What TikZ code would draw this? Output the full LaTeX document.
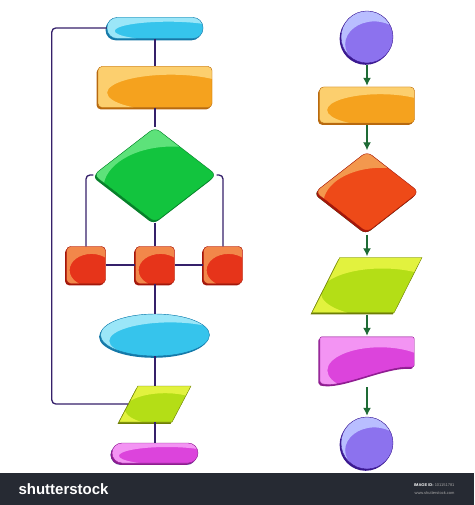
\documentclass[tikz,border=0pt]{standalone}
\usepackage{fontspec}
\usetikzlibrary{shapes,arrows,arrows.meta,shadows,calc}
\newfontfamily\barfont{Liberation Sans}
\definecolor{cyanB}{HTML}{36C4EC}\definecolor{cyanL}{HTML}{9BE6F8}\definecolor{cyanD}{HTML}{1478A8}
\definecolor{orgB}{HTML}{F5A21E}\definecolor{orgL}{HTML}{FCCF6E}\definecolor{orgD}{HTML}{B8690E}
\definecolor{grnB}{HTML}{12C43E}\definecolor{grnL}{HTML}{5DE27A}\definecolor{grnD}{HTML}{07802A}
\definecolor{redB}{HTML}{E6341A}\definecolor{redL}{HTML}{F2874A}\definecolor{redD}{HTML}{A3160A}
\definecolor{limB}{HTML}{B4DE16}\definecolor{limL}{HTML}{E2F23E}\definecolor{limD}{HTML}{6E7E06}
\definecolor{magB}{HTML}{DC44DC}\definecolor{magL}{HTML}{F394F3}\definecolor{magD}{HTML}{8E1C90}
\definecolor{purB}{HTML}{8C72EE}\definecolor{purL}{HTML}{B9BEFF}\definecolor{purD}{HTML}{3A1890}
\definecolor{oredB}{HTML}{EE4A18}\definecolor{oredL}{HTML}{F3984E}
\definecolor{linec}{HTML}{35206A}\definecolor{arrowc}{HTML}{1E6B35}\definecolor{barc}{HTML}{262A33}

\begin{document}
\begin{tikzpicture}[auto, node distance=70pt, >={Latex[length=8pt,width=8pt]}, x=1pt, y=1pt]
	%define block styles
	\tikzset{
		gloss/.style={path picture={\fill[#1,even odd rule] let \p1=(path picture bounding box.north east), \p2=(path picture bounding box.south west) in (\p2) rectangle (\p1) ({\x2+0.64*(\x1-\x2)},{\y2+0.36*(\y1-\y2)}) ellipse [x radius={0.56*(\x1-\x2)}, y radius={0.44*(\y1-\y2)}];}},
		rim/.style={drop shadow={shadow xshift=-1.4pt, shadow yshift=-1.8pt, fill=#1, opacity=1}},
		pillbox/.style={rectangle, rounded corners=10pt, minimum width=96pt, minimum height=21pt, inner sep=0pt, fill=cyanB, gloss=cyanL, draw=cyanD, rim=cyanD},
		procbox/.style={rectangle, rounded corners=4pt, minimum width=114pt, minimum height=41pt, inner sep=0pt, fill=orgB, gloss=orgL, draw=orgD, rim=orgD},
		decbox/.style={diamond, rounded corners=6pt, minimum width=123pt, minimum height=95pt, inner sep=0pt, fill=grnB, gloss=grnL, draw=grnD, rim=grnD},
		sqbox/.style={rectangle, rounded corners=4pt, minimum width=39pt, minimum height=37pt, inner sep=0pt, fill=redB, gloss=redL, draw=redD, rim=redD},
		ovalbox/.style={ellipse, minimum width=109pt, minimum height=42pt, inner sep=0pt, fill=cyanB, gloss=cyanL, draw=cyanD, rim=cyanD},
		iobox/.style={trapezium, trapezium left angle=61, trapezium right angle=119, trapezium stretches=true, minimum width=72pt, minimum height=36pt, inner sep=1pt, fill=limB, gloss=limL, draw=limD, rim=limD},
		termbox/.style={circle, minimum size=52pt, inner sep=0pt, fill=purB, gloss=purL, draw=purD, rim=purD},
		docbox/.style={rectangle, minimum width=94pt, minimum height=46pt, inner sep=0pt},
		docfill/.style={rounded corners=2pt, fill=magB, gloss=magL, draw=magD, preaction={fill=magD, transform canvas={xshift=-1.4pt, yshift=-1.8pt}}},
		link/.style={draw=linec, line width=1.3pt, rounded corners=4pt},
		arrow/.style={->, draw=arrowc, line width=1.4pt, shorten <=2pt, shorten >=1pt},}
	\useasboundingbox (0,0) rectangle (474,-505);
	%define nodes, left chart
	\node[pillbox](start) at (155,-28) {};
	\node[procbox, below of=start, yshift=11pt](proc) {};
	\node[decbox, below of=proc, yshift=-18pt](dec) {};
	\node[sqbox, below of=dec, yshift=-20pt](sq2) {};
	\node[sqbox, left of=sq2, xshift=1pt](sq1) {};
	\node[sqbox, right of=sq2, xshift=-2pt](sq3) {};
	\node[ovalbox, below of=sq2](oval) {};
	\node[iobox, below of=oval, yshift=1pt](io) {};
	\node[pillbox, minimum width=86pt, minimum height=20pt, fill=magB, gloss=magL, draw=magD, rim=magD, below of=io, yshift=21pt](stop) {};
	%left chart lines
	\draw[link] (start) -- (proc) -- (dec) -- (sq2) -- (oval) -- (io) -- (stop);
	\draw[link] (sq1) -- (sq2) -- (sq3);
	\draw[link] (dec.west) -| (sq1.north);
	\draw[link] (dec.east) -| (sq3.north);
	\draw[link] (start.west) -- ++(-55,0) |- (io.west);
	%define nodes, right chart
	\node[termbox](c1) at (367,-37) {};
	\node[procbox, minimum width=95pt, minimum height=36pt, below of=c1, yshift=2pt](r1) {};
	\node[decbox, minimum width=104pt, minimum height=81pt, fill=oredB, gloss=oredL, draw=redD, rim=redD, below of=r1, yshift=-17pt](d1) {};
	\node[iobox, trapezium left angle=63, trapezium right angle=117, minimum width=110pt, minimum height=55pt, below of=d1, yshift=-23pt](p1) {};
	\node[docbox, below of=p1, yshift=-5pt](doc) {};
	\path[docfill] (doc.north west) -- (doc.north east) -- ([yshift=16pt]doc.south east) .. controls +(-28,2) and +(22,-6) .. (doc.south west) -- cycle;
	\node[termbox, below of=doc, yshift=-13pt](c2) {};
	%right chart arrows
	\draw[arrow] (c1) -- (r1);
	\draw[arrow] (r1) -- (d1);
	\draw[arrow] (d1) -- (p1);
	\draw[arrow] (p1) -- (doc);
	\draw[arrow, shorten <=4pt] (doc) -- (c2);
	%bottom bar
	\fill[barc] (0,-473) rectangle (474,-505);
	\node[anchor=west, text=white, font=\barfont\bfseries\fontsize{15}{15}\selectfont](brand) at (15,-489) {shutterstock};
	\node[anchor=east, text=gray!70, font=\barfont\fontsize{4}{5}\selectfont](imgid) at (458,-485) {{\color{white}\bfseries IMAGE ID:} 101151781};
	\node[anchor=east, text=gray!70, font=\barfont\fontsize{4}{5}\selectfont](site) at (458,-493) {www.shutterstock.com};
\end{tikzpicture}
\end{document}
